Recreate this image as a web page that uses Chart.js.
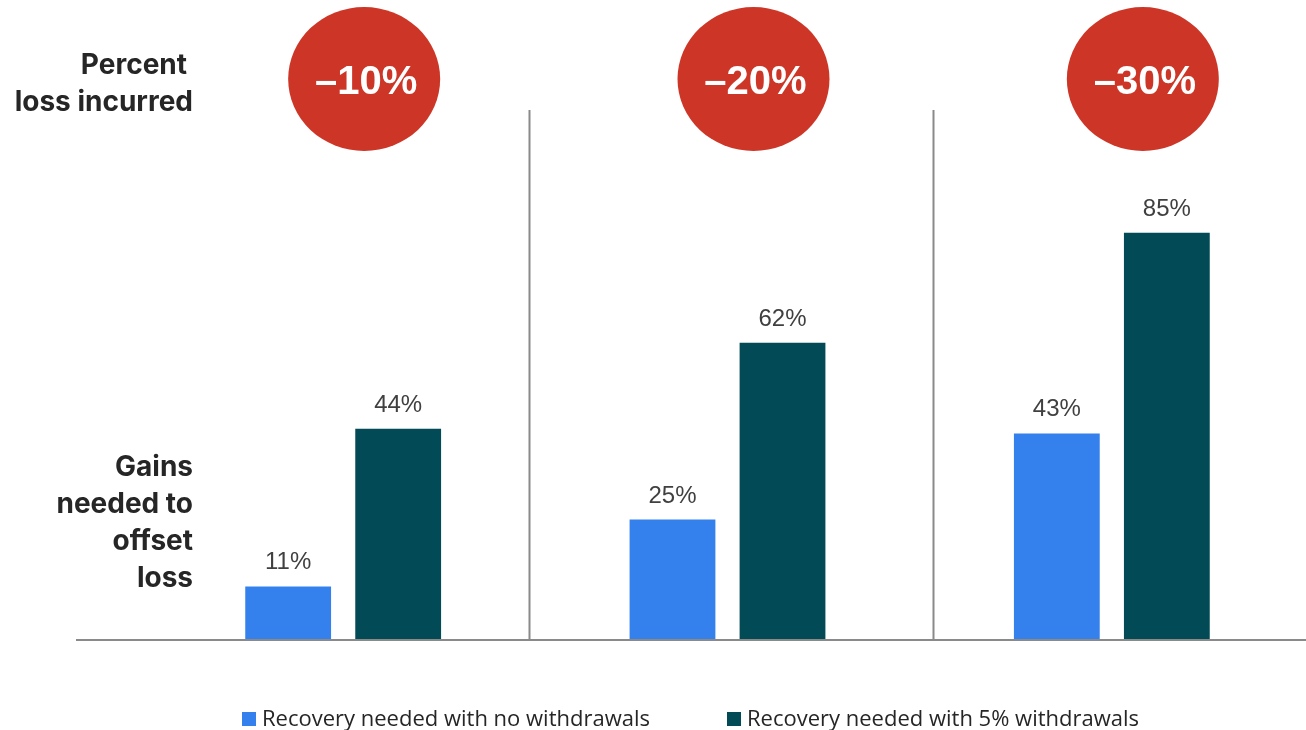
<!DOCTYPE html>
<html>
<head>
<meta charset="utf-8">
<script src="https://cdn.jsdelivr.net/npm/chart.js@4/dist/chart.umd.min.js"></script>
<style>
  html, body { margin: 0; padding: 0; background: #ffffff; }
  #wrap { position: relative; width: 1306px; height: 730px; }
</style>
</head>
<body>
<div id="wrap"><canvas id="c" width="1306" height="730"></canvas></div>
<script>
// ---- data ----
const lossLabels = ['–10%', '–20%', '–30%'];
const noWithdrawals = [11, 25, 43];
const withWithdrawals = [44, 62, 85];
const seriesNames = ['Recovery needed with no withdrawals', 'Recovery needed with 5% withdrawals'];
const topLabelLines = ['Percent', 'loss incurred'];
const sideLabelLines = ['Gains', 'needed to', 'offset', 'loss'];

const BLUE = '#3481EE';
const TEAL = '#024A55';
const RED = '#CD3627';
const GRAY = '#8a8a8a';

const decor = {
  id: 'decor',
  afterDatasetsDraw(chart) {
    const ctx = chart.ctx;
    const x = chart.scales.x;
    const y = chart.scales.y;
    const base = y.getPixelForValue(0);
    ctx.save();
    // value labels
    ctx.font = '24px "Liberation Sans", Arial, sans-serif';
    ctx.fillStyle = '#404040';
    ctx.textAlign = 'center';
    ctx.textBaseline = 'alphabetic';
    chart.data.datasets.forEach((ds, di) => {
      chart.getDatasetMeta(di).data.forEach((bar, i) => {
        ctx.fillText(ds.data[i] + '%', bar.x, bar.y - 17);
      });
    });
    // separators
    ctx.strokeStyle = GRAY;
    ctx.lineWidth = 2;
    [0.484, 1.535].forEach(v => {
      const px = Math.round(x.getPixelForValue(v)) + 0.5;
      ctx.beginPath();
      ctx.moveTo(px, 110);
      ctx.lineTo(px, base);
      ctx.stroke();
    });
    // baseline
    ctx.beginPath();
    ctx.moveTo(76, base + 1);
    ctx.lineTo(1306, base + 1);
    ctx.stroke();
    // circles with loss labels
    lossLabels.forEach((lab, i) => {
      const cx = x.getPixelForValue(i) + 26 + (i - 1) * 5;
      const cy = 79;
      ctx.fillStyle = RED;
      ctx.beginPath();
      ctx.ellipse(cx, cy, 76, 72, 0, 0, Math.PI * 2);
      ctx.fill();
      ctx.fillStyle = '#ffffff';
      ctx.font = 'bold 40px "Liberation Sans", Arial, sans-serif';
      ctx.textAlign = 'center';
      ctx.textBaseline = 'alphabetic';
      ctx.fillText(lab, cx + 2, cy + 15);
    });
    // left labels
    ctx.fillStyle = '#262626';
    ctx.font = 'bold 28px Inter, "Liberation Sans", sans-serif';
    ctx.textAlign = 'right';
    topLabelLines.forEach((t, i) => ctx.fillText(t, i === 0 ? 187 : 193, 74 + i * 37));
    sideLabelLines.forEach((t, i) => ctx.fillText(t, 193, 476 + i * 37));
    // legend
    ctx.font = '22px "Open Sans", "Liberation Sans", sans-serif';
    ctx.textAlign = 'left';
    ctx.textBaseline = 'alphabetic';
    const legX = [242, 727];
    chart.data.datasets.forEach((ds, di) => {
      ctx.fillStyle = ds.backgroundColor;
      ctx.fillRect(legX[di], 712, 14, 14);
      ctx.fillStyle = '#262626';
      ctx.fillText(ds.label, legX[di] + 20, 726);
    });
    ctx.restore();
  }
};

new Chart(document.getElementById('c'), {
  type: 'bar',
  data: {
    labels: lossLabels,
    datasets: [
      { label: seriesNames[0], data: noWithdrawals, backgroundColor: BLUE },
      { label: seriesNames[1], data: withWithdrawals, backgroundColor: TEAL }
    ]
  },
  options: {
    responsive: false,
    animation: false,
    events: [],
    layout: { padding: { left: 151, right: 2, top: 161, bottom: 91 } },
    datasets: { bar: { barPercentage: 0.78, categoryPercentage: 0.5725 } },
    scales: {
      x: { display: false },
      y: { display: false, min: 0, max: 100 }
    },
    plugins: { legend: { display: false }, tooltip: { enabled: false } }
  },
  plugins: [decor]
});
</script>
</body>
</html>
